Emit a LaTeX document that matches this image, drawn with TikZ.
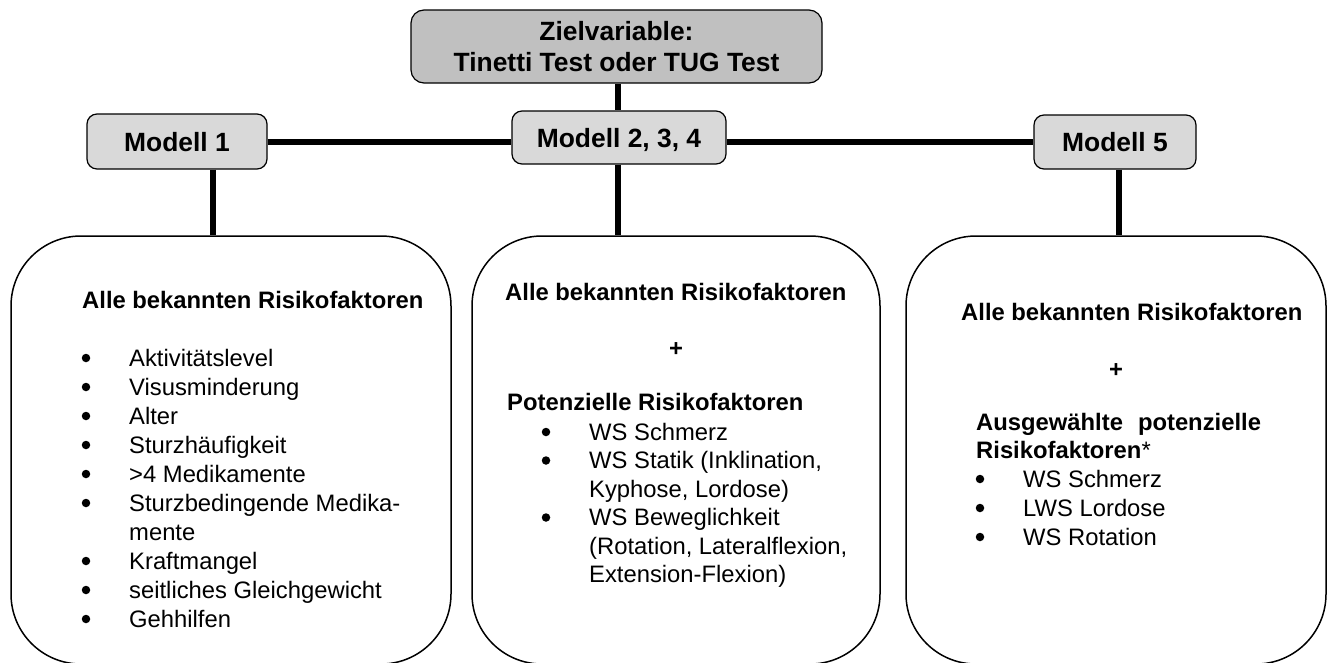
\documentclass[tikz,border=0pt]{standalone}
\usepackage{fontspec}
\setmainfont{Liberation Sans}
\usetikzlibrary{backgrounds}
\definecolor{zielgray}{HTML}{C0C0C0}
\definecolor{modgray}{HTML}{D9D9D9}
\begin{document}
\begin{tikzpicture}[x=1pt,y=-1pt,
  zielbox/.style={draw, line width=1.2pt, fill=zielgray, rounded corners=13pt, inner sep=0pt, align=center, font=\fontsize{26.4}{31}\selectfont\bfseries},
  modbox/.style={draw, line width=1.2pt, fill=modgray, rounded corners=10pt, inner sep=0pt, text depth=0pt, font=\fontsize{26.4}{31}\selectfont\bfseries},
  bigbox/.style={draw, line width=1.5pt, rounded corners=70pt, inner sep=0pt},
  conn/.style={line width=5.5pt},
  body/.style={anchor=base west, inner sep=0pt, font=\fontsize{23.8}{29}\selectfont},
  head/.style={anchor=base west, inner sep=0pt, font=\fontsize{23.8}{29}\selectfont\bfseries},
  dot/.style={circle, fill=black, inner sep=0pt, minimum size=8.5pt},
  plus/.style={anchor=base, inner sep=0pt, font=\fontsize{23.8}{29}\selectfont\bfseries},
]
\useasboundingbox (0,0) rectangle (1334,662);
% boxes
\node[zielbox, minimum width=411pt, minimum height=73pt] (ziel) at (616.5,46.5) {Zielvariable:\\Tinetti Test oder TUG Test};
\node[modbox, minimum width=180pt, minimum height=55pt] (m1) at (177,141.5) {Modell 1};
\node[modbox, minimum width=214pt, minimum height=53pt] (m2) at (619,137.5) {Modell 2, 3, 4};
\node[modbox, minimum width=162pt, minimum height=54pt] (m5) at (1115,142) {Modell 5};
\node[bigbox, minimum width=440pt, minimum height=428pt] (b1) at (231,450) {};
\node[bigbox, minimum width=408pt, minimum height=428pt] (b2) at (676,450) {};
\node[bigbox, minimum width=420pt, minimum height=428pt] (b3) at (1116,450) {};
% connector guides
\coordinate (hz) at (0,142);
\coordinate (v1) at (213,0);
\coordinate (v2) at (618,0);
\coordinate (v5) at (1119,0);
\begin{scope}[on background layer]
\draw[conn] (m1.east |- hz) -- (m2.west |- hz);
\draw[conn] (m2.east |- hz) -- (m5.west |- hz);
\draw[conn] (ziel.south -| v2) -- (m2.north -| v2);
\draw[conn] (m1.south -| v1) -- (b1.north -| v1);
\draw[conn] (m2.south -| v2) -- (b2.north -| v2);
\draw[conn] (m5.south -| v5) -- (b3.north -| v5);
\end{scope}
% box 1 text
\node[head] (h1) at (82,308) {Alle bekannten Risikofaktoren};
\node[dot] (p1a) at (86,358) {};
\node[body] (t1a) at (129,366) {Aktivitätslevel};
\node[dot] (p1b) at (86,387) {};
\node[body] (t1b) at (129,395) {Visusminderung};
\node[dot] (p1c) at (86,416) {};
\node[body] (t1c) at (129,424) {Alter};
\node[dot] (p1d) at (86,445) {};
\node[body] (t1d) at (129,453) {Sturzhäufigkeit};
\node[dot] (p1e) at (86,474) {};
\node[body] (t1e) at (129,482) {>4 Medikamente};
\node[dot] (p1f) at (86,503) {};
\node[body] (t1f) at (129,511) {Sturzbedingende Medika-};
\node[body] (t1g) at (129,540) {mente};
\node[dot] (p1h) at (86,561) {};
\node[body] (t1h) at (129,569) {Kraftmangel};
\node[dot] (p1i) at (86,590) {};
\node[body] (t1i) at (129,598) {seitliches Gleichgewicht};
\node[dot] (p1j) at (86,619) {};
\node[body] (t1j) at (129,627) {Gehhilfen};
% box 2 text
\node[head] (h2) at (505,300) {Alle bekannten Risikofaktoren};
\node[plus] (pl2) at (676,356) {+};
\node[head] (h2b) at (507,410) {Potenzielle Risikofaktoren};
\node[dot] (p2a) at (546,432) {};
\node[body] (t2a) at (589,440) {WS Schmerz};
\node[dot] (p2b) at (546,460.5) {};
\node[body] (t2b) at (589,468.5) {WS Statik (Inklination,};
\node[body] (t2c) at (589,497) {Kyphose, Lordose)};
\node[dot] (p2d) at (546,517.5) {};
\node[body] (t2d) at (589,525.5) {WS Beweglichkeit};
\node[body] (t2e) at (589,554) {(Rotation, Lateralflexion,};
\node[body] (t2f) at (589,582) {Extension-Flexion)};
% box 3 text
\node[head] (h3) at (961,320) {Alle bekannten Risikofaktoren};
\node[plus] (pl3) at (1116,377) {+};
\node[head] (h3b) at (976,430) {Ausgewählte\hspace{15pt}potenzielle};
\node[head] (h3c) at (976,458) {Risikofaktoren{\mdseries *}};
\node[dot] (p3a) at (980,479) {};
\node[body] (t3a) at (1023,487) {WS Schmerz};
\node[dot] (p3b) at (980,508) {};
\node[body] (t3b) at (1023,516) {LWS Lordose};
\node[dot] (p3c) at (980,537) {};
\node[body] (t3c) at (1023,545) {WS Rotation};
\end{tikzpicture}
\end{document}
